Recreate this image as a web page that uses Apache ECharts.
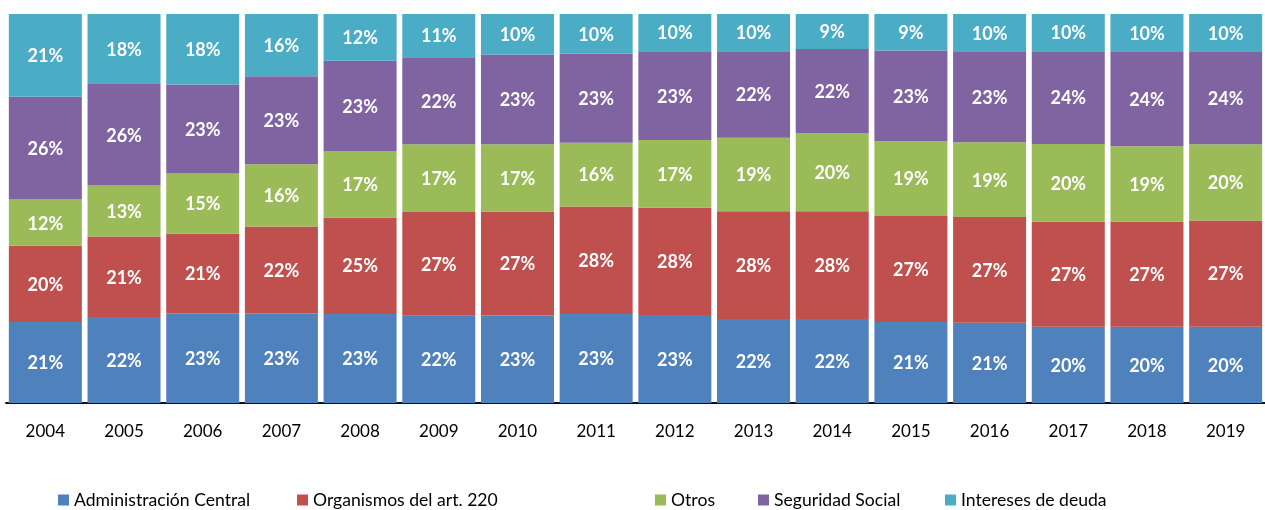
<!DOCTYPE html>
<html>
<head>
<meta charset="utf-8">
<script src="https://cdn.jsdelivr.net/npm/echarts@6/dist/echarts.min.js"></script>
<style>
html,body{margin:0;padding:0;background:#fff;}
#chart{width:1265px;height:510px;}
</style>
</head>
<body>
<div id="chart"></div>
<script>
var years = ['2004','2005','2006','2007','2008','2009','2010','2011','2012','2013','2014','2015','2016','2017','2018','2019'];
var adminCentral    = [20.8, 22.1, 23.0, 23.0, 22.9, 22.4, 22.5, 22.9, 22.6, 21.6, 21.6, 20.8, 20.6, 19.6, 19.6, 19.6];
var organismos220   = [19.6, 20.7, 20.6, 22.4, 24.8, 26.7, 26.7, 27.6, 27.6, 27.7, 27.7, 27.3, 27.2, 27.0, 27.0, 27.3];
var otros           = [11.9, 13.1, 15.4, 16.0, 17.1, 17.4, 17.3, 16.4, 17.4, 18.9, 20.1, 19.2, 19.2, 20.0, 19.4, 19.6];
var seguridadSocial = [26.4, 26.1, 22.9, 22.6, 23.2, 22.4, 23.1, 22.9, 22.8, 22.2, 21.6, 23.3, 23.2, 23.8, 24.2, 23.7];
var interesesDeuda  = [21.3, 18.0, 18.1, 16.0, 12.0, 11.1, 10.4, 10.2,  9.6,  9.6,  9.0,  9.4,  9.8,  9.6,  9.8,  9.8];

var seriesNames = ['Administración Central', 'Organismos del art. 220', 'Otros', 'Seguridad Social', 'Intereses de deuda'];
var seriesData = [adminCentral, organismos220, otros, seguridadSocial, interesesDeuda];
var colors = ['#4F81BD', '#C0504D', '#9BBB59', '#8064A2', '#4BACC6'];
var legendLefts = [58, 297, 655, 758, 945];

var FONT = 'Lato';

var chart = echarts.init(document.getElementById('chart'));
var series = seriesNames.map(function (name, i) {
  return {
    name: name,
    type: 'bar',
    stack: 'total',
    barWidth: 73,
    data: seriesData[i],
    itemStyle: { color: colors[i] },
    label: {
      show: true,
      position: 'inside',
      offset: [0, 1],
      color: '#fff',
      fontFamily: FONT,
      fontWeight: 'bold',
      fontSize: 18,
      formatter: function (p) { return Math.round(p.value) + '%'; }
    },
    emphasis: { disabled: true }
  };
});

var legends = seriesNames.map(function (name, i) {
  return {
    data: [name],
    left: legendLefts[i],
    top: 491,
    padding: 0,
    itemWidth: 11,
    itemHeight: 11,
    itemGap: 0,
    icon: 'rect',
    textStyle: { fontFamily: FONT, fontSize: 17.6, color: '#000' },
    selectedMode: false
  };
});

chart.setOption({
  animation: false,
  color: colors,
  grid: { left: 6, top: 14, width: 1272, height: 389, containLabel: false },
  legend: legends,
  xAxis: {
    type: 'category',
    data: years,
    axisTick: { show: false },
    axisLine: { lineStyle: { color: '#111', width: 2 } },
    axisLabel: { color: '#000', fontFamily: FONT, fontSize: 17, margin: 20 }
  },
  yAxis: {
    type: 'value',
    min: 0,
    max: 100,
    show: false,
    splitLine: { show: false }
  },
  series: series
});
</script>
</body>
</html>
